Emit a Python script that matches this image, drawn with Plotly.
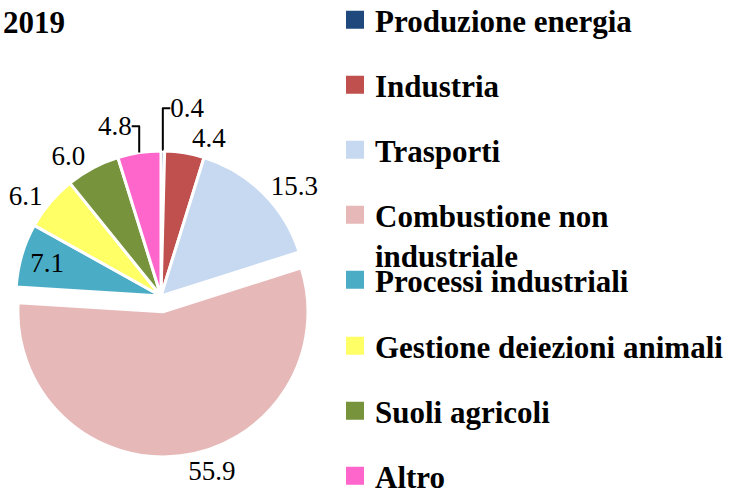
import plotly.graph_objects as go

# ---- data ----
year = "2019"
categories = ["Produzione energia", "Industria", "Trasporti", "Combustione non industriale",
              "Processi industriali", "Gestione deiezioni animali", "Suoli agricoli", "Altro"]
legend_labels = ["Produzione energia", "Industria", "Trasporti", "Combustione non<br>industriale",
                 "Processi industriali", "Gestione deiezioni animali", "Suoli agricoli", "Altro"]
values = [0.4, 4.4, 15.3, 55.9, 7.1, 6.1, 6.0, 4.8]
colors = ["#1F497D", "#C0504D", "#C6D9F1", "#E6B9B8", "#4BACC6", "#FFFF66", "#77933C", "#FF66CC"]
pulls = [0, 0, 0, 0.11, 0, 0, 0, 0]
text_positions = ["outside", "outside", "outside", "outside", "inside", "outside", "outside", "outside"]

# ---- layout helpers ----
W, H = 735, 494
legend_center_px = [20, 85, 150, 235, 280, 346, 411, 476]
legend_left_px = 335
SERIF = "Liberation Serif"
pie_cx, pie_cy, pie_half = 161, 296, 161

fig = go.Figure()
fig.add_trace(go.Pie(
    labels=categories, values=values, sort=False, direction="clockwise", rotation=0,
    marker=dict(colors=colors, line=dict(color="white", width=3)),
    pull=pulls, textposition=text_positions, texttemplate="%{value:.1f}",
    textfont=dict(family=SERIF, size=27, color="black"),
    insidetextorientation="horizontal",
    domain=dict(x=[max(0, (pie_cx - pie_half) / W), (pie_cx + pie_half) / W],
                y=[1 - (pie_cy + pie_half) / H, 1 - (pie_cy - pie_half) / H]),
    showlegend=False, hoverinfo="label+value",
))

for i, (lab, c) in enumerate(zip(legend_labels, colors)):
    lname = "legend" if i == 0 else f"legend{i + 1}"
    fig.add_trace(go.Scatter(
        x=[None], y=[None], mode="markers", name=lab, legend=lname,
        marker=dict(symbol="square", size=16, color=c, line=dict(color=c, width=2)),
        showlegend=True, hoverinfo="skip",
    ))
    fig.layout[lname] = dict(
        x=legend_left_px / W, xanchor="left", y=1 - legend_center_px[i] / H, yanchor="middle",
        font=dict(family=SERIF, size=31, color="black", weight="bold"),
        bgcolor="rgba(0,0,0,0)", borderwidth=0, valign="top", itemclick=False, itemdoubleclick=False,
    )

fig.update_layout(
    width=W, height=H, autosize=False,
    margin=dict(l=0, r=0, t=0, b=0, autoexpand=False),
    paper_bgcolor="white", plot_bgcolor="white",
    xaxis=dict(visible=False), yaxis=dict(visible=False),
    title=dict(text="<b>" + year + "</b>", x=3 / W, xanchor="left", y=1 - 22 / H, yanchor="middle",
               yref="container", xref="paper",
               font=dict(family=SERIF, size=31, color="black")),
)

fig.write_html("out.html", config={"displayModeBar": False},
               post_script="document.body.style.margin='0';")
